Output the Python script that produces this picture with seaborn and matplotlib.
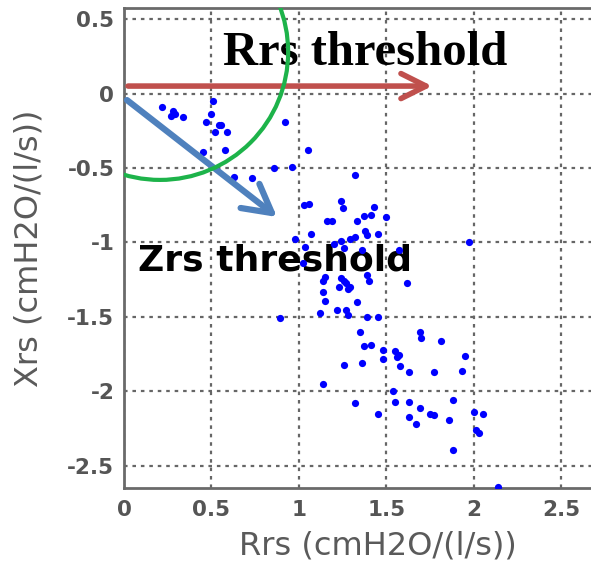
import matplotlib
matplotlib.use("Agg")
import matplotlib.pyplot as plt
from matplotlib.patches import Ellipse
import seaborn as sns
import pandas as pd

# Respiratory resistance (Rrs) and reactance (Xrs), cmH2O/(l/s)
rrs = [0.215, 0.28, 0.29, 0.27, 0.335, 0.51, 0.50, 0.47, 0.545, 0.555, 0.52, 0.59,
       0.92, 0.45, 0.58, 1.05, 0.855, 0.96, 0.63, 0.73, 1.03, 1.06,
       1.32, 1.24, 1.25, 1.43, 1.16, 1.19, 1.33, 1.37, 1.41, 1.50, 1.07, 1.38, 1.39,
       1.455, 0.98, 1.24, 1.29, 1.32, 1.035, 1.20, 1.26, 1.36, 1.57, 1.025, 1.15,
       1.24, 1.26, 1.29, 1.39, 1.14, 1.23, 1.97,
       1.14, 1.27, 1.28, 1.40, 1.62, 1.15, 1.33, 1.22, 1.27, 1.28, 1.12, 0.89, 1.39,
       1.455, 1.35, 1.69, 1.70, 1.81, 1.37, 1.41, 1.48, 1.48, 1.55, 1.57, 1.56, 1.95,
       1.26, 1.36, 1.58, 1.63, 1.77, 1.93, 1.14, 1.54, 1.32, 1.55, 1.63, 1.69, 1.88,
       1.455, 1.63, 1.75, 1.77, 1.86, 1.67, 2.00, 2.055, 2.01, 2.03, 1.88, 2.14]
xrs = [-0.09, -0.12, -0.14, -0.15, -0.16, -0.05, -0.14, -0.19, -0.21, -0.21, -0.26, -0.26,
       -0.19, -0.39, -0.38, -0.38, -0.50, -0.49, -0.56, -0.565, -0.75, -0.74,
       -0.55, -0.72, -0.77, -0.76, -0.855, -0.855, -0.855, -0.82, -0.815, -0.83, -0.94, -0.92, -0.95,
       -0.94, -0.98, -0.99, -0.98, -0.965, -1.03, -1.01, -1.04, -1.05, -1.05, -1.14, -1.23,
       -1.24, -1.26, -1.30, -1.22, -1.33, -1.30, -1.00,
       -1.26, -1.27, -1.31, -1.26, -1.27, -1.39, -1.40, -1.45, -1.45, -1.49, -1.475, -1.51, -1.50,
       -1.50, -1.60, -1.60, -1.64, -1.66, -1.695, -1.69, -1.72, -1.78, -1.73, -1.755, -1.77, -1.76,
       -1.82, -1.81, -1.83, -1.87, -1.87, -1.86, -1.95, -2.00, -2.08, -2.07, -2.07, -2.11, -2.06,
       -2.15, -2.17, -2.15, -2.16, -2.19, -2.22, -2.135, -2.15, -2.26, -2.28, -2.39, -2.64]

x_ticks = [0, 0.5, 1, 1.5, 2, 2.5]
x_tick_labels = ["0", "0.5", "1", "1.5", "2", "2.5"]
y_ticks = [0.5, 0, -0.5, -1, -1.5, -2, -2.5]
y_tick_labels = ["0.5", "0", "-0.5", "-1", "-1.5", "-2", "-2.5"]

df = pd.DataFrame({"Rrs": rrs, "Xrs": xrs})

sns.set_style("white")
plt.rcParams["font.family"] = ["DejaVu Sans"]
plt.rcParams["axes.unicode_minus"] = False

fig = plt.figure(figsize=(5.91, 5.64), dpi=100)
ax = fig.add_axes([0.2098, 0.1348, 0.7902, 0.8510])

sns.scatterplot(data=df, x="Rrs", y="Xrs", ax=ax, color="#0000ff", s=27,
                linewidth=0, zorder=3)

ax.set_xlim(0, 2.67)
ax.set_ylim(-2.648, 0.574)
ax.set_xticks(x_ticks)
ax.set_xticklabels(x_tick_labels)
ax.set_yticks(y_ticks)
ax.set_yticklabels(y_tick_labels)

grey = "#555555"
ax.grid(True, color="#666666", linestyle=(0, (1.6, 2.2)), linewidth=1.6, zorder=0)
ax.set_axisbelow(True)
for side in ["left", "bottom", "top"]:
    ax.spines[side].set_color("#6a6a6a")
    ax.spines[side].set_linewidth(2.0)
ax.spines["right"].set_visible(False)
ax.tick_params(axis="both", direction="in", length=5, width=1.2, color="#6a6a6a",
               labelsize=15.5, labelcolor=grey)
ax.tick_params(axis="x", pad=9)
ax.tick_params(axis="y", pad=7)
for lbl in ax.get_xticklabels() + ax.get_yticklabels():
    lbl.set_fontweight("semibold")

ax.set_xlabel("Rrs (cmH2O/(l/s))", fontsize=23, color="#5a5a5a")
ax.set_ylabel("Xrs (cmH2O/(l/s))", fontsize=23, color="#5a5a5a")
ax.xaxis.label.set_verticalalignment("center")
ax.yaxis.label.set_verticalalignment("center")
ax.xaxis.set_label_coords(0.544, -0.121)
ax.yaxis.set_label_coords(-0.203, 0.5)

# threshold annotations
ax.text(0.566, 0.191, "Rrs threshold", fontsize=35, fontweight="bold",
        family="Liberation Serif", color="black", ha="left", va="baseline", zorder=2)
ax.text(0.08, -1.185, "Zrs threshold", fontsize=26, fontweight="bold",
        family="DejaVu Sans", color="black", ha="left", va="baseline", zorder=2)

ax.annotate("", xy=(1.762, 0.05), xytext=(0.023, 0.05),
            arrowprops=dict(arrowstyle="->,head_length=0.9,head_width=0.45",
                            mutation_scale=20, color="#c0504d", lw=4.0,
                            shrinkA=0, shrinkB=0),
            zorder=4)
ax.annotate("", xy=(0.875, -0.829), xytext=(0.017, -0.044),
            arrowprops=dict(arrowstyle="->,head_length=1.0,head_width=0.55",
                            mutation_scale=20, color="#4f81bd", lw=4.5,
                            shrinkA=0, shrinkB=0),
            zorder=4)

arc = Ellipse((0.206, 0.279), width=1.465, height=1.718, fill=False,
              edgecolor="#1db34a", linewidth=3.0, zorder=5, clip_on=True)
ax.add_patch(arc)

fig.savefig("out.png", dpi=100)
